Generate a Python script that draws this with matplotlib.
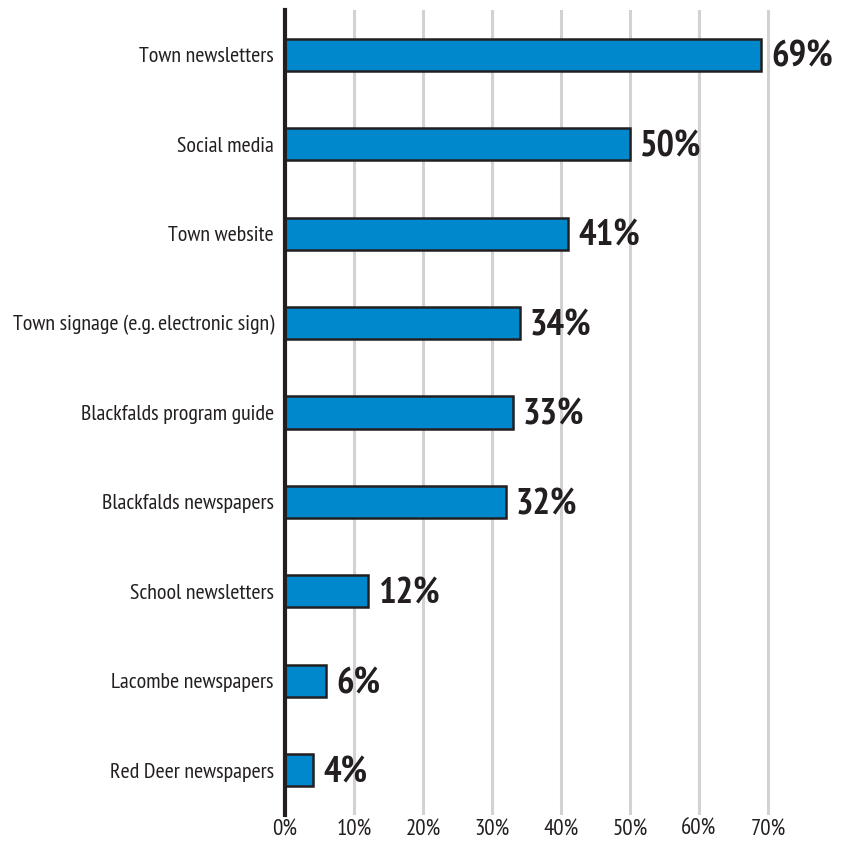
import matplotlib
matplotlib.use("Agg")
import matplotlib.pyplot as plt

categories = [
    "Town newsletters",
    "Social media",
    "Town website",
    "Town signage (e.g. electronic sign)",
    "Blackfalds program guide",
    "Blackfalds newspapers",
    "School newsletters",
    "Lacombe newspapers",
    "Red Deer newspapers",
]
values = [69, 50, 41, 34, 33, 32, 12, 6, 4]
xticks = [0, 10, 20, 30, 40, 50, 60, 70]
xtick_labels = ["0%", "10%", "20%", "30%", "40%", "50%", "60%", "70%"]

plt.rcParams["font.family"] = ["PT Sans Narrow", "DejaVu Sans"]

fig = plt.figure(figsize=(8.48, 8.42), dpi=100)
ax = fig.add_axes([285 / 848, 1 - 815 / 842, (837 - 285) / 848, (815 - 10) / 842])

ypos = list(range(len(categories)))
ax.barh(ypos, values, height=0.36, color="#0088cc", edgecolor="#231f20",
        linewidth=1.8, zorder=3)

for y, v in zip(ypos, values):
    ax.text(v + 1.5, y + 0.03, f"{v}%", va="center", ha="left", fontsize=26.5,
            fontweight="bold", color="#231f20", zorder=4)

ax.set_xlim(0, 80)
ax.set_ylim(len(categories) - 0.5, -0.5)
ax.set_yticks(ypos)
ax.set_yticklabels(categories, fontsize=15.8, color="#231f20")
ax.set_xticks(xticks)
ax.set_xticklabels(xtick_labels, fontsize=16.5, color="#231f20")
ax.tick_params(axis="both", length=0)
ax.tick_params(axis="y", pad=8)
ax.tick_params(axis="x", pad=3)

for x in xticks[1:]:
    ax.axvline(x, color="#d2d2d2", linewidth=2.2, zorder=1)

for s in ["top", "right", "bottom"]:
    ax.spines[s].set_visible(False)
ax.spines["left"].set_linewidth(3)
ax.spines["left"].set_color("#231f20")
ax.spines["left"].set_zorder(5)

fig.savefig("out.png", dpi=100)
